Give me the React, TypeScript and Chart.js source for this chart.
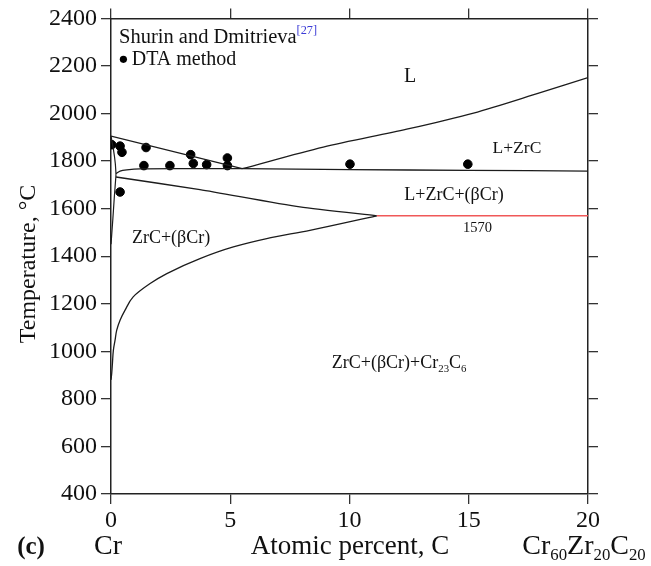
import React, { useEffect, useRef } from "react";
import { Chart, registerables } from "chart.js";
Chart.register(...registerables);

const FONT = '"Liberation Serif","Times New Roman",Times,serif';
const W = 651;
const H = 566;

// axes
const xMin = 0, xMax = 20, xStep = 5;
const yMin = 400, yMax = 2400, yStep = 200;

// phase boundaries (atomic percent C, temperature °C)
const liquidusLeftX = [0, 5.5];
const liquidusLeftT = [1905, 1768];
const liquidusRightX = [5.5, 8.9, 12.4, 15.2, 18.0, 20];
const liquidusRightT = [1768, 1859, 1934, 2002, 2088, 2151];
const threePhaseX = [0.21, 0.38, 0.66, 1.22, 3.0, 5.5, 10, 15, 20];
const threePhaseT = [1747, 1758, 1763, 1767, 1768, 1768, 1764, 1761, 1758];
const lowerX = [0.21, 3.73, 7.92, 11.14];
const lowerT = [1733, 1680, 1607, 1570];
const eutecticX = [11.14, 20];
const eutecticT = [1570, 1570];
const solvusX = [0.0, 0.03, 0.06, 0.1, 0.17, 0.24, 0.38, 0.59, 0.93, 1.64, 2.34, 3.73, 5.13, 6.53, 8.34, 11.14];
const solvusT = [880, 907, 949, 1005, 1047, 1089, 1131, 1173, 1229, 1285, 1327, 1390, 1439, 1474, 1509, 1570];
const solidusCrX = [0, 0.1, 0.18, 0.21];
const solidusCrT = [1905, 1850, 1790, 1745];
const solvusCrX = [0.21, 0.2, 0.14, 0.08, 0.03, 0];
const solvusCrT = [1745, 1730, 1650, 1560, 1490, 1450];

// DTA measurements
const dtaX = [0.03, 0.38, 0.46, 1.47, 1.38, 2.47, 3.34, 3.45, 4.01, 4.88, 4.88, 0.38, 10.02, 14.96];
const dtaT = [1869, 1863, 1837, 1857, 1781, 1781, 1827, 1790, 1785, 1813, 1781, 1670, 1787, 1787];

const eutecticLabel = "1570";

type Seg = { t: string; k?: "sub" | "sup"; c?: string };

const regionLabels: { segs: Seg[]; x: number; t: number; size: number }[] = [
  { segs: [{ t: "L" }], x: 12.54, t: 2160, size: 20 },
  { segs: [{ t: "L+ZrC" }], x: 17.02, t: 1859, size: 17.5 },
  { segs: [{ t: "L+ZrC+(βCr)" }], x: 14.38, t: 1660, size: 18 },
  { segs: [{ t: "ZrC+(βCr)" }], x: 2.52, t: 1481, size: 18 },
  { segs: [{ t: eutecticLabel }], x: 15.37, t: 1523, size: 14.5 },
  {
    segs: [{ t: "ZrC+(βCr)+Cr" }, { t: "23", k: "sub" }, { t: "C" }, { t: "6", k: "sub" }],
    x: 12.08,
    t: 956,
    size: 18,
  },
];

const pts = (xs: number[], ys: number[]) => xs.map((x, i) => ({ x, y: ys[i] }));

function drawRich(
  ctx: CanvasRenderingContext2D,
  segs: Seg[],
  x: number,
  baseline: number,
  size: number,
  align: "left" | "center",
  weight = "normal"
) {
  const fontFor = (s: Seg) => `${weight} ${s.k ? size * 0.6 : size}px ${FONT}`;
  let w = 0;
  for (const s of segs) {
    ctx.font = fontFor(s);
    w += ctx.measureText(s.t).width;
  }
  let cx = align === "center" ? x - w / 2 : x;
  ctx.textAlign = "left";
  ctx.textBaseline = "alphabetic";
  for (const s of segs) {
    ctx.font = fontFor(s);
    ctx.fillStyle = s.c || "#111";
    const dy = s.k === "sub" ? size * 0.22 : s.k === "sup" ? -size * 0.45 : 0;
    ctx.fillText(s.t, cx, baseline + dy);
    cx += ctx.measureText(s.t).width;
  }
}

const textPlugin = {
  id: "phaseText",
  afterDraw(chart: any) {
    const ctx: CanvasRenderingContext2D = chart.ctx;
    const xs = chart.scales.x;
    const ys = chart.scales.y;
    ctx.save();
    for (const l of regionLabels) {
      const px = xs.getPixelForValue(l.x);
      const py = ys.getPixelForValue(l.t);
      drawRich(ctx, l.segs, px, py + l.size * 0.33, l.size, "center");
    }
    // legend inside plot
    const lx = xs.getPixelForValue(0.335);
    const lb = ys.getPixelForValue(2295);
    drawRich(
      ctx,
      [{ t: "Shurin and Dmitrieva" }, { t: "[27]", k: "sup", c: "#3b3bd6" }],
      lx,
      lb,
      20.5,
      "left"
    );
    const dx = xs.getPixelForValue(0.52);
    const dy = ys.getPixelForValue(2228);
    ctx.fillStyle = "#000";
    ctx.beginPath();
    ctx.arc(dx, dy, 3.6, 0, Math.PI * 2);
    ctx.fill();
    drawRich(ctx, [{ t: "DTA method" }], xs.getPixelForValue(0.87), ys.getPixelForValue(2203), 20, "left");

    // y axis title
    ctx.save();
    ctx.translate(27, 264);
    ctx.rotate(-Math.PI / 2);
    drawRich(ctx, [{ t: "Temperature, °C" }], 0, 8, 24, "center");
    ctx.restore();

    // bottom row
    const rowBase = 554;
    drawRich(ctx, [{ t: "(c)" }], 31, rowBase, 25, "center", "bold");
    drawRich(ctx, [{ t: "Cr" }], xs.getPixelForValue(0) - 3, rowBase, 28, "center");
    drawRich(ctx, [{ t: "Atomic percent, C" }], 350, rowBase, 27, "center");
    drawRich(
      ctx,
      [{ t: "Cr" }, { t: "60", k: "sub" }, { t: "Zr" }, { t: "20", k: "sub" }, { t: "C" }, { t: "20", k: "sub" }],
      xs.getPixelForValue(20) - 4,
      rowBase,
      28,
      "center"
    );
    ctx.restore();
  },
};

const LINE = "#1c1c1c";

export default function App() {
  const ref = useRef<HTMLCanvasElement>(null);
  useEffect(() => {
    document.body.style.margin = "0";
    const line = (data: { x: number; y: number }[], color = LINE, width = 1.3, tension = 0) => ({
      type: "line" as const,
      data,
      borderColor: color,
      borderWidth: width,
      pointRadius: 0,
      fill: false,
      tension,
      showLine: true,
    });
    const monoY = (data: { x: number; y: number }[], width = 1.3) => ({
      ...line(data, LINE, width, 0.4),
      indexAxis: "y" as const,
      cubicInterpolationMode: "monotone" as const,
    });
    const gridCommon = {
      drawOnChartArea: false,
      drawTicks: true,
      tickLength: 10,
      color: "#333",
      lineWidth: 1.3,
    };
    const border = { display: true, color: "#222", width: 1.5 };
    const plain = (v: any) => String(v);
    const chart = new Chart(ref.current!, {
      type: "scatter",
      data: {
        datasets: [
          line(pts(liquidusLeftX, liquidusLeftT)),
          line(pts(liquidusRightX, liquidusRightT), LINE, 1.3, 0.3),
          line(pts(threePhaseX, threePhaseT), LINE, 1.3, 0.3),
          line(pts(lowerX, lowerT), LINE, 1.3, 0.2),
          line(pts(eutecticX, eutecticT), "#f05858", 1.6),
          monoY(pts(solvusX, solvusT)),
          monoY(pts(solidusCrX, solidusCrT), 1.2),
          monoY(pts(solvusCrX, solvusCrT), 1.2),
          {
            type: "scatter" as const,
            data: pts(dtaX, dtaT),
            backgroundColor: "#000",
            borderColor: "#000",
            pointRadius: 4.3,
            pointHoverRadius: 4.3,
          },
        ] as any,
      },
      options: {
        responsive: false,
        animation: false,
        devicePixelRatio: 1,
        layout: { padding: 0 },
        plugins: { legend: { display: false }, tooltip: { enabled: false } },
        scales: {
          x: {
            type: "linear",
            position: "bottom",
            min: xMin,
            max: xMax,
            ticks: {
              stepSize: xStep,
              color: "#111",
              font: { family: FONT, size: 24 },
              padding: 2,
              maxRotation: 0,
              autoSkip: false,
              callback: plain,
            },
            grid: gridCommon,
            border,
            afterFit: (s: any) => {
              s.height = 72;
            },
          },
          xTop: {
            type: "linear",
            position: "top",
            min: xMin,
            max: xMax,
            ticks: { stepSize: xStep, display: false },
            grid: gridCommon,
            border,
            afterFit: (s: any) => {
              s.height = 18;
            },
          },
          y: {
            type: "linear",
            position: "left",
            min: yMin,
            max: yMax,
            ticks: {
              stepSize: yStep,
              color: "#111",
              font: { family: FONT, size: 24 },
              padding: 4,
              autoSkip: false,
              callback: plain,
            },
            grid: gridCommon,
            border,
            afterFit: (s: any) => {
              s.width = 111;
            },
          },
          yRight: {
            type: "linear",
            position: "right",
            min: yMin,
            max: yMax,
            ticks: { stepSize: yStep, display: false },
            grid: gridCommon,
            border,
            afterFit: (s: any) => {
              s.width = W - 588;
            },
          },
        } as any,
      },
      plugins: [textPlugin],
    });
    return () => chart.destroy();
  }, []);
  return (
    <div style={{ position: "absolute", left: 0, top: 0, width: W, height: H, background: "#fff" }}>
      <canvas ref={ref} width={W} height={H} style={{ width: W, height: H }} />
    </div>
  );
}
